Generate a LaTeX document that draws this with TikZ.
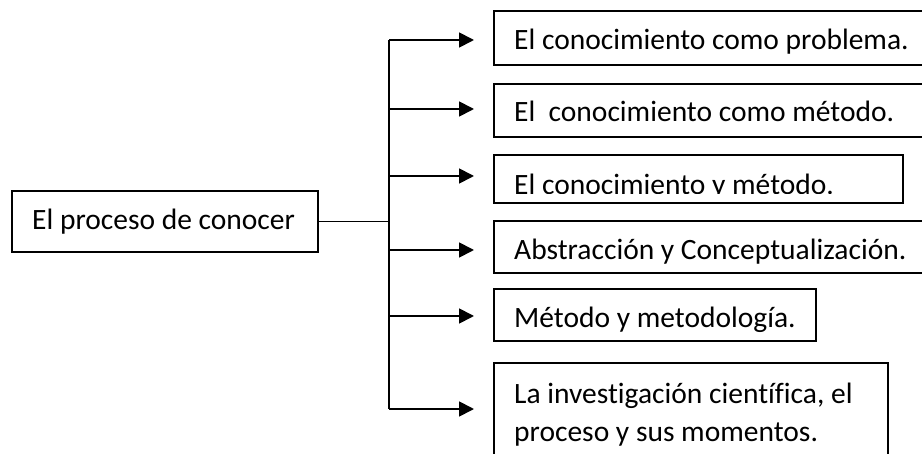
\documentclass[tikz,border=0pt]{standalone}
\usepackage{fontspec}
\setmainfont[Ligatures={NoCommon,NoRare,NoContextual}]{Carlito}
\usetikzlibrary{arrows.meta}

\tikzset{
	box/.style={draw, line width=2pt, anchor=north west, inner sep=0pt},
	txt/.style={anchor=base west, inner sep=0pt, align=left, font=\fontsize{29.5}{38}\selectfont},
	link/.style={line width=1.8pt},
	arrow/.style={link, -{Triangle[length=15pt,width=15pt]}, shorten >=19pt}
}

\begin{document}
\begin{tikzpicture}[x=1pt, y=-1pt]
	\useasboundingbox (0,0) rectangle (922,457);
	\clip (0,0) rectangle (922,453);
	% boxes
	\node[box, minimum width=306pt, minimum height=61pt] (b0) at (11,190) {};
	\node[box, minimum width=440pt, minimum height=54pt] (b1) at (493,10) {};
	\node[box, minimum width=440pt, minimum height=53pt] (b2) at (493,83) {};
	\node[box, minimum width=409pt, minimum height=48pt] (b3) at (493,154) {};
	\node[box, minimum width=440pt, minimum height=52pt] (b4) at (493,220) {};
	\node[box, minimum width=322pt, minimum height=52pt] (b5) at (493,288) {};
	\node[box, minimum width=394pt, minimum height=94pt] (b6) at (493,362) {};
	% texts
	\begin{scope}
		\clip (b0.north west) rectangle ([yshift=7pt]b0.south east)
			(b1.north west) rectangle ([yshift=7pt]b1.south east)
			(b2.north west) rectangle ([yshift=7pt]b2.south east)
			(b3.north west) rectangle ([yshift=10pt]b3.south east)
			(b4.north west) rectangle ([yshift=7pt]b4.south east)
			(b5.north west) rectangle ([yshift=6pt]b5.south east)
			(b6.north west) rectangle ([yshift=6pt]b6.south east);
		\node[txt] (l0) at ([xshift=21pt,yshift=-40pt]b0.north west) {El proceso de conocer};
		\node[txt] (l1) at ([xshift=21pt,yshift=-40pt]b1.north west) {El conocimiento como problema.};
		\node[txt] (l2) at ([xshift=21pt,yshift=-39pt]b2.north west) {El\ \ conocimiento como método.};
		\node[txt] (l3) at ([xshift=21pt,yshift=-41pt]b3.north west) {El conocimiento y método.};
		\node[txt] (l4) at ([xshift=21pt,yshift=-40pt]b4.north west) {Abstracción y Conceptualización.};
		\node[txt] (l5) at ([xshift=21pt,yshift=-40pt]b5.north west) {Método y metodología.};
		\node[txt] (l6) at ([xshift=21pt,yshift=-79pt]b6.north west) {La investigación científica, el\\proceso y sus momentos.};
	\end{scope}
	% trunk
	\coordinate (t1) at (389,40);
	\coordinate (t2) at (389,109);
	\coordinate (t3) at (389,176);
	\coordinate (t4) at (389,250);
	\coordinate (t5) at (389,316);
	\coordinate (t6) at (389,409);
	\draw[link] (t1) -- (t6);
	\draw[link] (b0.east) -- (b0.east -| t1);
	\draw[arrow] (t1) -- (t1 -| b1.west);
	\draw[arrow] (t2) -- (t2 -| b2.west);
	\draw[arrow] (t3) -- (t3 -| b3.west);
	\draw[arrow] (t4) -- (t4 -| b4.west);
	\draw[arrow] (t5) -- (t5 -| b5.west);
	\draw[arrow] (t6) -- (t6 -| b6.west);
\end{tikzpicture}
\end{document}
